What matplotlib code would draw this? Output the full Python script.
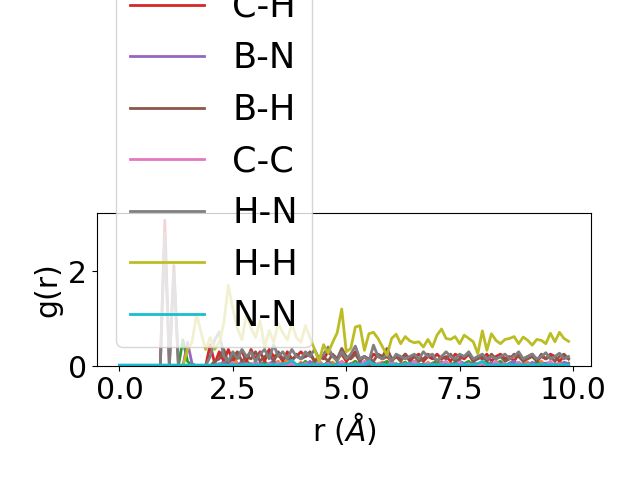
import numpy as np
import matplotlib
matplotlib.use("Agg")
import matplotlib.pyplot as plt

r = np.round(np.arange(0, 10, 0.1), 1)

labels = ["B-C", "C-N", "B-B", "C-H", "B-N", "B-H", "C-C", "H-N", "H-H", "N-N"]

g_BC = [0]*20 + [
    0, 0, 0, 0.03, 0, 0, 0.05, 0, 0, 0.04,
    0, 0, 0.05, 0, 0, 0.03, 0, 0.06, 0, 0,
    0.04, 0, 0, 0.05, 0, 0.03, 0, 0, 0.05, 0,
    0, 0.04, 0, 0, 0.03, 0, 0.05, 0, 0, 0.04,
    0, 0.03, 0, 0.05, 0, 0, 0.04, 0, 0.03, 0,
    0.05, 0, 0, 0.04, 0, 0.03, 0, 0.05, 0, 0,
    0.04, 0, 0.03, 0, 0, 0.05, 0, 0.04, 0, 0.03,
    0, 0.05, 0, 0, 0.04, 0, 0.03, 0, 0.05, 0]

g_CN = [0]*20 + [
    0, 0, 0.05, 0, 0.1, 0.22, 0.05, 0, 0.12, 0,
    0.05, 0, 0.1, 0, 0.05, 0.1, 0, 0.15, 0.05, 0,
    0.08, 0, 0.05, 0.1, 0.12, 0, 0.05, 0.08, 0, 0.1,
    0, 0.05, 0.1, 0, 0.06, 0.12, 0, 0.05, 0.08, 0,
    0.1, 0, 0.05, 0.08, 0, 0.1, 0.05, 0, 0.08, 0,
    0.05, 0.1, 0, 0.06, 0, 0.08, 0.05, 0, 0.1, 0,
    0.05, 0.08, 0, 0.1, 0.05, 0, 0.06, 0.1, 0, 0.05,
    0.08, 0, 0.05, 0.1, 0, 0.06, 0, 0.08, 0.05, 0]

g_BB = [0]*14 + [0.55, 0.1, 0, 0, 0, 0] + [
    0, 0.05, 0, 0.1, 0, 0.08, 0, 0, 0.1, 0,
    0.05, 0, 0.08, 0, 0.1, 0, 0.05, 0, 0.08, 0,
    0, 0.1, 0, 0.05, 0.08, 0, 0.1, 0, 0.05, 0,
    0.06, 0, 0.1, 0, 0.05, 0, 0.08, 0, 0.05, 0.1,
    0, 0.05, 0, 0.08, 0, 0.1, 0, 0.05, 0, 0.06,
    0.1, 0, 0.05, 0, 0.08, 0, 0.05, 0.1, 0, 0.05,
    0, 0.08, 0, 0.05, 0.1, 0, 0.05, 0, 0.08, 0,
    0.05, 0, 0.1, 0, 0.05, 0.08, 0, 0.05, 0, 0.06]

g_CH = [0]*10 + [3.07, 0, 0, 0, 0, 0, 0, 0, 0, 0] + [
    0.45, 0.05, 0.3, 0.1, 0.35, 0.1, 0.25, 0.3, 0.1, 0.35,
    0.15, 0.3, 0.1, 0.35, 0.2, 0.25, 0.1, 0.3, 0.15, 0.2,
    0.3, 0.2, 0.25, 0.1, 0.2, 0.15, 0.3, 0.2, 0.15, 0.25,
    0.1, 0.2, 0.3, 0.15, 0.2, 0.1, 0.25, 0.2, 0.15, 0.2,
    0.1, 0.2, 0.15, 0.25, 0.1, 0.2, 0.25, 0.1, 0.2, 0.15,
    0.25, 0.15, 0.2, 0.1, 0.25, 0.2, 0.15, 0.25, 0.1, 0.2,
    0.15, 0.25, 0.1, 0.2, 0.25, 0.15, 0.2, 0.1, 0.25, 0.15,
    0.2, 0.25, 0.1, 0.2, 0.15, 0.25, 0.2, 0.1, 0.2, 0.15]

g_BN = [0]*15 + [0.5, 0.05, 0, 0, 0] + [
    0, 0.05, 0, 0.08, 0, 0.05, 0, 0.1, 0, 0.05,
    0, 0.06, 0, 0.05, 0.1, 0, 0.05, 0, 0.08, 0,
    0.05, 0, 0.1, 0, 0.05, 0, 0.06, 0, 0.05, 0.08,
    0, 0.05, 0, 0.1, 0, 0.05, 0.06, 0, 0.05, 0,
    0.08, 0, 0.05, 0, 0.06, 0.1, 0, 0.05, 0, 0.05,
    0, 0.08, 0, 0.05, 0, 0.1, 0.05, 0, 0.06, 0,
    0.05, 0, 0.08, 0, 0.05, 0, 0.06, 0.1, 0, 0.05,
    0, 0.08, 0, 0.05, 0.06, 0, 0.05, 0, 0.08, 0.05]

g_BH = [0]*12 + [2.12, 0, 0, 0, 0, 0, 0, 0] + [
    0, 0.1, 0.15, 0.35, 0.05, 0.2, 0.3, 0.1, 0.2, 0.15,
    0.3, 0.1, 0.2, 0.25, 0.1, 0.3, 0.15, 0.2, 0.1, 0.25,
    0.15, 0.2, 0.3, 0.1, 0.15, 0.2, 0.1, 0.25, 0.15, 0.37,
    0.2, 0.15, 0.25, 0.1, 0.2, 0.15, 0.1, 0.25, 0.2, 0.37,
    0.15, 0.2, 0.1, 0.25, 0.15, 0.2, 0.1, 0.15, 0.25, 0.2,
    0.1, 0.2, 0.15, 0.25, 0.1, 0.15, 0.2, 0.25, 0.1, 0.15,
    0.2, 0.1, 0.25, 0.15, 0.2, 0.1, 0.15, 0.25, 0.2, 0.1,
    0.15, 0.2, 0.1, 0.25, 0.15, 0.2, 0.1, 0.2, 0.25, 0.15]

g_CC = [0]*20 + [
    0, 0, 0.05, 0, 0, 0.08, 0, 0, 0.05, 0,
    0.1, 0, 0, 0.05, 0, 0.08, 0, 0, 0.05, 0,
    0, 0.06, 0, 0, 0.1, 0, 0.05, 0, 0, 0.08,
    0, 0, 0.05, 0, 0.1, 0.12, 0, 0.05, 0, 0,
    0.08, 0, 0, 0.05, 0, 0.1, 0, 0, 0.06, 0,
    0, 0.05, 0.1, 0, 0, 0.08, 0, 0.05, 0, 0,
    0.06, 0, 0, 0.1, 0, 0.05, 0, 0, 0.08, 0,
    0.05, 0, 0, 0.06, 0, 0.1, 0, 0.05, 0, 0]

g_HN = [0]*10 + [2.8, 0, 1.95, 0, 0, 0, 0, 0, 0, 0] + [
    0.2, 0.55, 0.72, 0.2, 0.1, 0.3, 0.15, 0.35, 0.2, 0.3,
    0.1, 0.25, 0.35, 0.15, 0.45, 0.2, 0.3, 0.15, 0.35, 0.2,
    0.15, 0.3, 0.2, 0.35, 0.15, 0.25, 0.4, 0.2, 0.1, 0.3,
    0.15, 0.25, 0.42, 0.15, 0.2, 0.1, 0.44, 0.2, 0.15, 0.25,
    0.1, 0.25, 0.2, 0.15, 0.2, 0.25, 0.15, 0.3, 0.2, 0.25,
    0.1, 0.2, 0.3, 0.2, 0.15, 0.25, 0.2, 0.3, 0.15, 0.2,
    0.25, 0.15, 0.2, 0.15, 0.2, 0.25, 0.15, 0.2, 0.3, 0.15,
    0.2, 0.25, 0.15, 0.2, 0.28, 0.15, 0.2, 0.27, 0.15, 0.2]

g_HH = [0]*15 + [0.35, 0.5, 1.1, 0.7, 0.35] + [
    0.6, 0.35, 0.5, 0.9, 1.7, 1.2, 0.8, 0.55, 1.1, 0.8,
    0.6, 0.95, 0.4, 0.75, 0.5, 0.9, 0.7, 0.55, 0.9, 0.6,
    0.5, 0.85, 0.6, 0.35, 0.1, 0.45, 0.27, 0.5, 0.7, 1.2,
    0.3, 0.37, 0.82, 0.85, 0.33, 0.68, 0.71, 0.58, 0.4, 0.23,
    0.58, 0.67, 0.47, 0.62, 0.53, 0.49, 0.51, 0.4, 0.56, 0.4,
    0.65, 0.78, 0.58, 0.56, 0.62, 0.47, 0.65, 0.58, 0.51, 0.26,
    0.74, 0.33, 0.68, 0.54, 0.47, 0.56, 0.58, 0.62, 0.47, 0.61,
    0.54, 0.44, 0.56, 0.54, 0.47, 0.69, 0.51, 0.71, 0.58, 0.52]

g_NN = [0.02]*20 + [
    0.02, 0.02, 0.03, 0.02, 0.02, 0.03, 0.02, 0.02, 0.03, 0.02,
    0.02, 0.03, 0.02, 0.02, 0.03, 0.02, 0.04, 0.06, 0.12, 0.03,
    0.02, 0.03, 0.02, 0.04, 0.02, 0.03, 0.02, 0.02, 0.03, 0.02,
    0.03, 0.02, 0.04, 0.02, 0.03, 0.1, 0.03, 0.02, 0.03, 0.02,
    0.02, 0.03, 0.02, 0.04, 0.05, 0.02, 0.03, 0.02, 0.02, 0.03,
    0.02, 0.03, 0.02, 0.02, 0.04, 0.02, 0.03, 0.02, 0.03, 0.05,
    0.1, 0.03, 0.02, 0.03, 0.02, 0.02, 0.04, 0.02, 0.03, 0.02,
    0.02, 0.03, 0.02, 0.04, 0.02, 0.03, 0.02, 0.02, 0.03, 0.02]

series = [g_BC, g_CN, g_BB, g_CH, g_BN, g_BH, g_CC, g_HN, g_HH, g_NN]

fig = plt.figure(figsize=(6.4, 4.8), dpi=100)
ax = fig.add_axes([97/640, 114/480, 494/640, 153/480])
for lab, g in zip(labels, series):
    ax.plot(r, g, lw=2, label=lab)

ax.set_ylim(bottom=0)
ax.set_yticks([0, 2])
ax.set_xticks([0, 2.5, 5.0, 7.5, 10.0])
ax.tick_params(labelsize=21.5)
ax.set_xlabel(r"r ($\AA$)", fontsize=21.5)
ax.set_ylabel("g(r)", fontsize=21.5)
ax.legend(loc="lower left", fontsize=25.3, handlelength=2.12,
          borderaxespad=0.53)

fig.savefig("out.png", dpi=100)
